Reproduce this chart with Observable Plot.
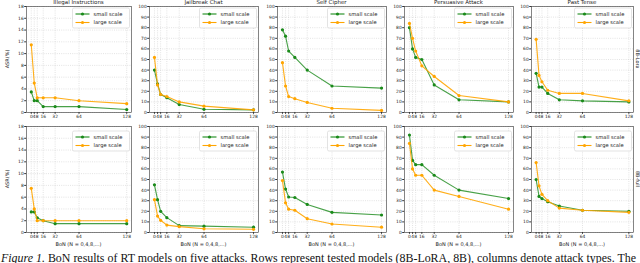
<!DOCTYPE html>
<html><head><meta charset="utf-8">
<script src="https://cdn.jsdelivr.net/npm/d3@7"></script>
<script src="https://cdn.jsdelivr.net/npm/@observablehq/plot@0.6"></script>
<style>
html,body{margin:0;padding:0;background:#fff;width:640px;height:263px;overflow:hidden}
#root{position:relative;width:640px;height:263px}
.panel{position:absolute}
#overlay{position:absolute;left:0;top:0}
</style></head><body><div id="root"></div>
<script>
// ---- data ----
const bonN = [0, 4, 8, 16, 32, 64, 128];
const attacks = ["Illegal Instructions", "Jailbreak Chat", "Self Cipher", "Persuasive Attack", "Past Tense"];
const rowLabels = ["8B-Lora", "8B-full"];
const seriesNames = ["small scale", "large scale"];
const yMax = [18, 100, 100, 100, 100];
const yStep = [2, 10, 10, 10, 10];
// 8B-LoRA row
const smallLora = [
  [3.5, 2, 2, 1, 1, 1, 0.5],
  [40, 27, 17, 14, 7.5, 3, 2.5],
  [78, 72, 58, 52, 40, 25, 23],
  [80, 60, 52, 50, 26, 12, 10],
  [37, 24, 24, 18, 12, 11, 10]
];
const largeLora = [
  [11.5, 5, 2.5, 2.5, 2.5, 2, 1.5],
  [52, 26, 17, 15, 10, 6, 2.5],
  [47, 25, 15, 13, 9.5, 4, 2],
  [84, 70, 58, 44, 34, 16, 10],
  [69, 35, 29, 21, 18, 18, 11]
];
// 8B (full) row
const smallFull = [
  [3.5, 3.5, 2.5, 2, 1.5, 1.5, 1.5],
  [45, 31, 20, 14, 6.5, 6, 5],
  [57, 41, 33.5, 33, 26.5, 19, 16.5],
  [92, 68, 64, 64, 54, 40, 32],
  [50, 34, 32, 29, 25, 21, 20]
];
const largeFull = [
  [7.5, 4, 2, 2, 2, 2, 2],
  [31, 15.5, 11.5, 7, 5.5, 3.5, 3],
  [49, 28, 22, 21, 13, 8, 5],
  [84, 60, 54, 54, 40, 34, 22],
  [66, 44, 36, 30, 23, 21, 19]
];
const caption = "BoN results of RT models on five attacks. Rows represent tested models (8B-LoRA, 8B), columns denote attack types. The";

// ---- layout ----
const colL = [26, 149, 277, 404, 531];
const colR = [131, 258, 386, 513, 633];
const rowT = [6, 126];
const frameH = 106;
const GREEN = "#1a8a1a", ORANGE = "#ffa500";
const ml = 16, mr = 3, mt = 3, mb = 10;

const root = document.getElementById("root");
const data = [[smallLora, largeLora], [smallFull, largeFull]];

for (let r = 0; r < 2; r++) {
  for (let c = 0; c < 5; c++) {
    const W = colR[c] - colL[c];
    const yt = d3.range(0, yMax[c] + 0.001, yStep[c]);
    const s = bonN.map((n, i) => ({n, v: data[r][0][c][i]}));
    const l = bonN.map((n, i) => ({n, v: data[r][1][c][i]}));
    const grid = {stroke: "#b8b8b8", strokeOpacity: 0.8, strokeWidth: 0.5, strokeDasharray: "1,1.2"};
    const chart = Plot.plot({
      width: W + ml + mr, height: frameH + mt + mb,
      marginLeft: ml, marginRight: mr, marginTop: mt, marginBottom: mb,
      style: {fontFamily: "DejaVu Sans", fontSize: "4.4px", background: "transparent", overflow: "visible", color: "#222"},
      x: {domain: [-6.4, 134.4], label: null},
      y: {domain: [0, yMax[c]], label: null},
      marks: [
        Plot.gridX(bonN, grid),
        Plot.gridY(yt, grid),
        Plot.line(s, {x: "n", y: "v", stroke: GREEN, strokeWidth: 1.1, strokeOpacity: 0.8}),
        Plot.dot(s, {x: "n", y: "v", fill: GREEN, r: 1.6}),
        Plot.line(l, {x: "n", y: "v", stroke: ORANGE, strokeWidth: 1.1, strokeOpacity: 0.9}),
        Plot.dot(l, {x: "n", y: "v", fill: ORANGE, r: 1.6}),
        Plot.frame({stroke: "#333", strokeWidth: 0.6}),
        Plot.axisX(bonN, {tickSize: 1.8, tickPadding: 1, fontSize: 4.4, label: null, stroke: "#333"}),
        Plot.axisY(yt, {tickSize: 1.8, tickPadding: 1, fontSize: 4.4, label: null, stroke: "#333"})
      ]
    });
    chart.classList.add("panel");
    chart.style.left = (colL[c] - ml) + "px";
    chart.style.top = (rowT[r] - mt) + "px";
    root.appendChild(chart);
  }
}

// ---- overlay: titles, labels, legends, caption ----
const ns = "http://www.w3.org/2000/svg";
const ov = document.createElementNS(ns, "svg");
ov.setAttribute("id", "overlay");
ov.setAttribute("width", 640); ov.setAttribute("height", 263);
root.appendChild(ov);
function txt(x, y, s, o = {}) {
  const t = document.createElementNS(ns, "text");
  t.setAttribute("x", x); t.setAttribute("y", y);
  t.setAttribute("font-family", o.family || "DejaVu Sans");
  t.setAttribute("font-size", o.size || 5);
  t.setAttribute("fill", o.fill || "#222");
  if (o.anchor) t.setAttribute("text-anchor", o.anchor);
  if (o.rotate !== undefined) t.setAttribute("transform", `rotate(${o.rotate},${x},${y})`);
  t.textContent = s;
  ov.appendChild(t);
  return t;
}
function el(tag, attrs) {
  const e = document.createElementNS(ns, tag);
  for (const k in attrs) e.setAttribute(k, attrs[k]);
  ov.appendChild(e);
  return e;
}
for (let c = 0; c < 5; c++) {
  const cx = (colL[c] + colR[c]) / 2;
  txt(cx, 4.3, attacks[c], {size: 5.5, anchor: "middle"});
  txt(cx, 245.5, "BoN (N = 0,4,8,...)", {size: 5, anchor: "middle"});
  for (let r = 0; r < 2; r++) {
    const lx = colR[c] - 58.5, ly = rowT[r] + (r === 0 ? 2 : 5);
    el("rect", {x: lx, y: ly, width: 57, height: 20, rx: 1.5, fill: "white", "fill-opacity": 0.85, stroke: "#d0d0d0", "stroke-width": 0.6});
    [GREEN, ORANGE].forEach((col, i) => {
      const yy = ly + 6 + i * 8.5;
      el("line", {x1: lx + 3, x2: lx + 17, y1: yy, y2: yy, stroke: col, "stroke-width": 1.1});
      el("circle", {cx: lx + 10, cy: yy, r: 1.6, fill: col});
      txt(lx + 21, yy + 1.8, seriesNames[i], {size: 5.2});
    });
  }
}
for (let r = 0; r < 2; r++) {
  const cy = rowT[r] + frameH / 2;
  txt(9, cy, "ASR(%)", {size: 5, anchor: "middle", rotate: -90});
  txt(636, cy, rowLabels[r], {size: 5, anchor: "middle", rotate: 90});
}
const cap = el("text", {x: 1, y: 261.5, "font-family": "Liberation Serif", "font-size": 11.5, fill: "#111", textLength: 635, lengthAdjust: "spacingAndGlyphs"});
const t1 = document.createElementNS(ns, "tspan");
t1.setAttribute("font-style", "italic"); t1.textContent = "Figure 1.";
const t2 = document.createElementNS(ns, "tspan");
t2.textContent = " " + caption;
cap.appendChild(t1); cap.appendChild(t2);
</script></body></html>
